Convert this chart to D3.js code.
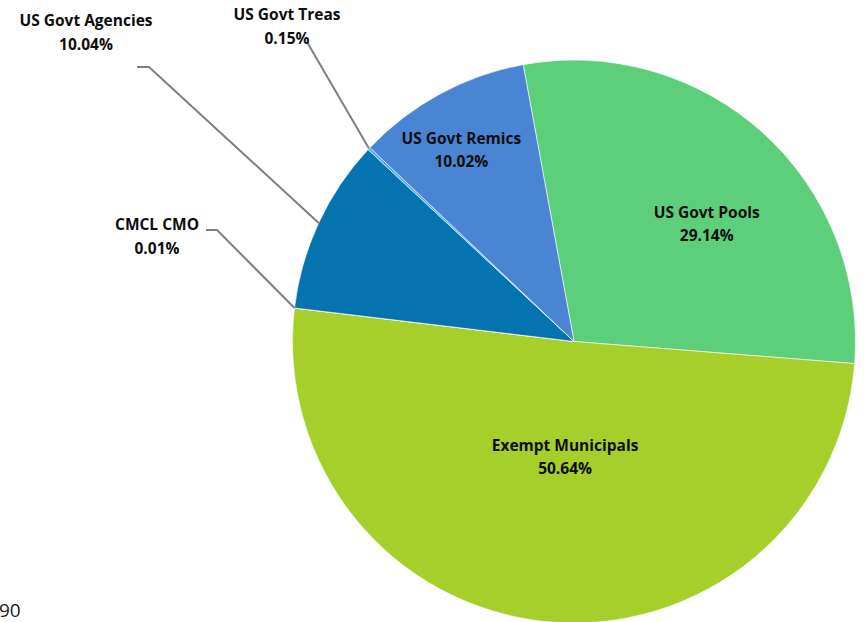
<!DOCTYPE html>
<html>
<head>
<meta charset="utf-8">
<script src="https://cdn.jsdelivr.net/npm/d3@7"></script>
<style>
  html, body { margin: 0; padding: 0; background: #fff; }
  svg { display: block; }
  .lbl { font-family: "Open Sans", Lato, "Liberation Sans", sans-serif; font-weight: bold; font-size: 15.5px; fill: #0d0d0d; }
</style>
</head>
<body>
<svg id="chart" width="864" height="622"></svg>
<script>
// ---- data ----
const categories = ["US Govt Pools", "Exempt Municipals", "CMCL CMO", "US Govt Agencies", "US Govt Treas", "US Govt Remics"];
const values = [29.14, 50.64, 0.01, 10.04, 0.15, 10.02];
const colors = ["#5dcf7b", "#a6cf2b", "#7fb3d5", "#0573b0", "#45aaf0", "#4a85d3"];
const footText = "90";

// ---- layout ----
const W = 864, H = 622;
const cx = 574, cy = 341.5, R = 281.5;
const startDeg = -10.4;
const rad = d => d * Math.PI / 180;

const svg = d3.select("#chart");
const g = svg.append("g").attr("transform", `translate(${cx},${cy})`);

const rows = categories.map((c, i) => ({ name: c, value: values[i], color: colors[i] }));
const pie = d3.pie().sort(null).value(d => d.value)
  .startAngle(rad(startDeg)).endAngle(rad(startDeg + 360));
const arcs = pie(rows);
const arc = d3.arc().innerRadius(0).outerRadius(R);

g.selectAll("path.slice").data(arcs).enter().append("path")
  .attr("class", "slice")
  .attr("d", arc)
  .attr("fill", d => d.data.color)
  .attr("stroke", "#ffffff")
  .attr("stroke-width", 0.6)
  .attr("stroke-linejoin", "round");

const fmt = v => v.toFixed(2) + "%";
const polar = (a, r) => [r * Math.sin(a), -r * Math.cos(a)];
const mid = d => (d.startAngle + d.endAngle) / 2;

// inside labels: radial factor and angle offset (deg)
const inside = {
  "US Govt Pools": { k: 0.63, da: 6.4 },
  "Exempt Municipals": { k: 0.41, da: -1.2 },
  "US Govt Remics": { k: 0.79, da: -2.0 }
};
// outside labels: label centre, elbow and stub end
const outside = {
  "US Govt Agencies": { lx: 86, ly: 26, ex: 149, ey: 67, sx: 137 },
  "US Govt Treas": { lx: 287, ly: 20, ex: 307, ey: 42, sx: 307 },
  "CMCL CMO": { lx: 157, ly: 230, ex: 217, ey: 230, sx: 206 }
};

const lineSpacing = 23.5;

arcs.forEach(d => {
  const name = d.data.name;
  if (inside[name]) {
    const p = inside[name];
    const [x, y] = polar(mid(d) + rad(p.da), R * p.k);
    const t = g.append("text").attr("class", "lbl").attr("text-anchor", "middle")
      .attr("x", x).attr("y", y - 6);
    t.append("tspan").attr("x", x).text(name);
    t.append("tspan").attr("x", x).attr("dy", lineSpacing).text(fmt(d.data.value));
  } else if (outside[name]) {
    const p = outside[name];
    const [ax, ay] = polar(mid(d), R);
    const pts = [[p.sx - cx, p.ey - cy], [p.ex - cx, p.ey - cy], [ax, ay]];
    g.append("path")
      .attr("d", d3.line()(pts))
      .attr("fill", "none")
      .attr("stroke", "#7f7f7f")
      .attr("stroke-width", 2);
    const t = svg.append("text").attr("class", "lbl").attr("text-anchor", "middle")
      .attr("x", p.lx).attr("y", p.ly);
    t.append("tspan").attr("x", p.lx).text(name);
    t.append("tspan").attr("x", p.lx).attr("dy", lineSpacing).text(fmt(d.data.value));
  }
});

svg.append("text")
  .attr("x", -1).attr("y", 617)
  .attr("font-family", "'Open Sans', 'Liberation Sans', sans-serif")
  .attr("font-size", 19)
  .attr("fill", "#1a1a1a")
  .text(footText);
</script>
</body>
</html>
